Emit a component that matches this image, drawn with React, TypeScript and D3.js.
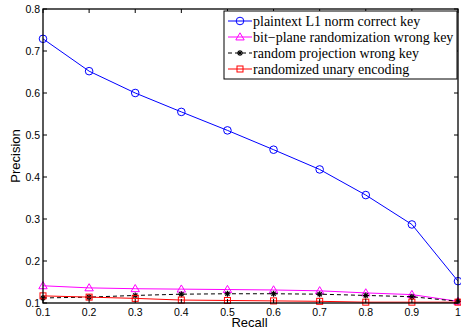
import React from "react";
import * as d3 from "d3";

const recall = [0.1, 0.2, 0.3, 0.4, 0.5, 0.6, 0.7, 0.8, 0.9, 1.0];
const plaintext = [0.729, 0.652, 0.6, 0.555, 0.511, 0.465, 0.418, 0.357, 0.287, 0.152];
const bitplane = [0.141, 0.136, 0.134, 0.133, 0.132, 0.131, 0.129, 0.124, 0.12, 0.104];
const randproj = [0.112, 0.114, 0.118, 0.121, 0.122, 0.122, 0.121, 0.118, 0.115, 0.104];
const unary = [0.117, 0.114, 0.111, 0.107, 0.106, 0.105, 0.104, 0.102, 0.102, 0.102];
const xTicks = [0.1, 0.2, 0.3, 0.4, 0.5, 0.6, 0.7, 0.8, 0.9, 1];
const yTicks = [0.1, 0.2, 0.3, 0.4, 0.5, 0.6, 0.7, 0.8];
const legendLabels = [
  "plaintext L1 norm correct key",
  "bit\u2212plane randomization wrong key",
  "random projection wrong key",
  "randomized unary encoding",
];

const W = 461, H = 329;
const L = 43, R = 458, T = 9, B = 303;

export default function App() {
  const x = d3.scaleLinear().domain([0.1, 1]).range([L, R]);
  const y = d3.scaleLinear().domain([0.1, 0.8]).range([B, T]);
  const line = d3.line<number>().x((_, i) => x(recall[i])).y((d) => y(d));

  const series = [
    { data: plaintext, color: "#0000ff", marker: "circle", dash: "" },
    { data: bitplane, color: "#ff00ff", marker: "triangle", dash: "" },
    { data: randproj, color: "#000000", marker: "star", dash: "4,3" },
    { data: unary, color: "#ff0000", marker: "square", dash: "" },
  ];

  const marker = (type: string, cx: number, cy: number, color: string, key: string) => {
    if (type === "circle") return <circle key={key} cx={cx} cy={cy} r={3.8} fill="none" stroke={color} strokeWidth={1} />;
    if (type === "triangle") {
      const s = 4.2;
      return <path key={key} d={`M${cx},${cy - s}L${cx + s},${cy + s * 0.7}L${cx - s},${cy + s * 0.7}Z`} fill="none" stroke={color} strokeWidth={1} />;
    }
    if (type === "square") return <rect key={key} x={cx - 3} y={cy - 3} width={6} height={6} fill="none" stroke={color} strokeWidth={1} />;
    const s = 3;
    return (
      <g key={key} stroke={color} strokeWidth={1.2}>
        <line x1={cx - s} y1={cy} x2={cx + s} y2={cy} />
        <line x1={cx} y1={cy - s} x2={cx} y2={cy + s} />
        <line x1={cx - s * 0.7} y1={cy - s * 0.7} x2={cx + s * 0.7} y2={cy + s * 0.7} />
        <line x1={cx - s * 0.7} y1={cy + s * 0.7} x2={cx + s * 0.7} y2={cy - s * 0.7} />
      </g>
    );
  };

  const legX = 224, legY = 11, legW = 233, legH = 68;
  const sans = "Liberation Sans, Arial, sans-serif";

  return (
    <svg width={W} height={H} style={{ position: "absolute", left: 0, top: 0, background: "#fff" }}>
      <rect x={0} y={0} width={W} height={H} fill="#fff" />
      {series.map((s, si) => (
        <g key={si}>
          <path d={line(s.data) || ""} fill="none" stroke={s.color} strokeWidth={1} strokeDasharray={s.dash} />
          {s.data.map((v, i) => marker(s.marker, x(recall[i]), y(v), s.color, `${si}-${i}`))}
        </g>
      ))}
      <rect x={L} y={T} width={R - L} height={B - T} fill="none" stroke="#000" strokeWidth={1.3} />
      {xTicks.map((t) => (
        <g key={`x${t}`}>
          <line x1={x(t)} x2={x(t)} y1={B} y2={B - 4} stroke="#000" />
          <line x1={x(t)} x2={x(t)} y1={T} y2={T + 4} stroke="#000" />
          <text x={x(t)} y={B + 13} textAnchor="middle" fontFamily={sans} fontSize={10.5} fill="#000">{t === 1 ? "1" : t.toFixed(1)}</text>
        </g>
      ))}
      {yTicks.map((t) => (
        <g key={`y${t}`}>
          <line x1={L} x2={L + 4} y1={y(t)} y2={y(t)} stroke="#000" />
          <line x1={R} x2={R - 4} y1={y(t)} y2={y(t)} stroke="#000" />
          <text x={L - 3} y={y(t) + 4} textAnchor="end" fontFamily={sans} fontSize={10.5} fill="#000">{t.toFixed(1)}</text>
        </g>
      ))}
      <text x={(L + R) / 2 - 1} y={327} textAnchor="middle" fontFamily={sans} fontSize={13} fill="#000">Recall</text>
      <text transform={`translate(19.5,${(T + B) / 2}) rotate(-90)`} textAnchor="middle" fontFamily={sans} fontSize={13} fill="#000">Precision</text>
      <rect x={legX} y={legY} width={legW} height={legH} fill="#fff" stroke="#000" strokeWidth={1} />
      {series.map((s, i) => {
        const cy = legY + 10 + i * 16;
        return (
          <g key={`leg${i}`}>
            <line x1={228} x2={252} y1={cy} y2={cy} stroke={s.color} strokeWidth={1} strokeDasharray={s.dash} />
            {marker(s.marker, 240, cy, s.color, `lm${i}`)}
            <text x={253} y={cy + 4.5} fontFamily="Liberation Serif, Times New Roman, serif" fontSize={14} fill="#000">{legendLabels[i]}</text>
          </g>
        );
      })}
    </svg>
  );
}
